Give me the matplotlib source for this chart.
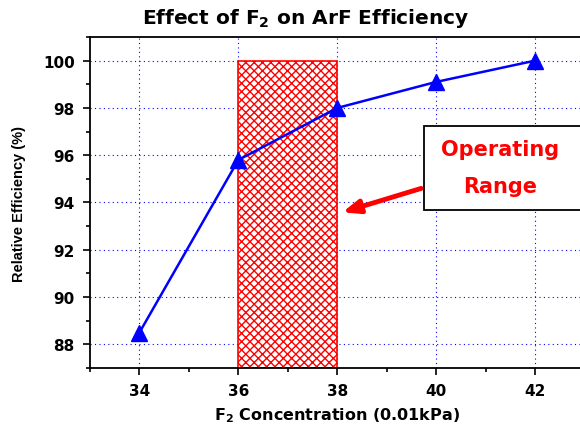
import matplotlib
matplotlib.use("Agg")
import matplotlib.pyplot as plt
from matplotlib.patches import Rectangle
from matplotlib.ticker import MultipleLocator

conc = [34, 36, 38, 40, 42]
eff = [88.5, 95.8, 98.0, 99.1, 100.0]
range_lo, range_hi = 36, 38
range_top = 100

plt.rcParams['font.family'] = ['DejaVu Sans']
plt.rcParams['mathtext.fontset'] = 'dejavusans'
fig = plt.figure(figsize=(5.8, 4.27), dpi=100)
ax = fig.add_axes([90/580, 1-369/427, (584.5-90)/580, (369-38)/427])
ax.set_xlim(33, 43)
ax.set_ylim(87, 101)

ax.add_patch(Rectangle((range_lo, 87), range_hi-range_lo, range_top-87,
                       facecolor='white', edgecolor='red', hatch='xxxx', linewidth=1.2, zorder=2))
ax.plot(conc, eff, color='blue', lw=1.8, marker='^', markersize=11, zorder=4)

ax.xaxis.set_major_locator(MultipleLocator(2))
ax.xaxis.set_minor_locator(MultipleLocator(1))
ax.yaxis.set_major_locator(MultipleLocator(2))
ax.yaxis.set_minor_locator(MultipleLocator(1))
ax.grid(True, which='major', color='blue', linestyle=(0, (1, 3)), linewidth=0.8)
ax.set_axisbelow(True)
ax.tick_params(which='both', direction='out', width=1.2)
ax.tick_params(which='major', length=5, labelsize=11, pad=6)
ax.tick_params(which='minor', length=3)
for lab in ax.get_xticklabels() + ax.get_yticklabels():
    lab.set_fontweight('bold')
for s in ['left', 'bottom', 'top']:
    ax.spines[s].set_linewidth(1.3)

ax.set_xlabel(r"F$_\mathbf{2}$ Concentration (0.01kPa)", fontsize=11.5, fontweight='bold', labelpad=5)
ax.set_ylabel("Relative Efficiency (%)", fontsize=10.5, fontweight='bold', labelpad=12,
              family='Liberation Sans')
fig.text(306/580, 1-18/427, r"Effect of F$_\mathbf{2}$ on ArF Efficiency", fontsize=14.5,
         fontweight='bold', ha='center', va='center')

ax.add_patch(Rectangle((39.75, 93.70), 4, 3.55, facecolor='white', edgecolor='black',
                       linewidth=1.3, zorder=5, clip_on=False))
ax.text(41.3, 96.25, "Operating", color='red', fontsize=15, fontweight='bold', ha='center', va='center', zorder=6)
ax.text(41.3, 94.7, "Range", color='red', fontsize=15, fontweight='bold', ha='center', va='center', zorder=6)
ax.annotate("", xy=(38.05, 93.55), xytext=(39.75, 94.63),
            arrowprops=dict(arrowstyle='-|>,head_length=1.0,head_width=0.4', color='red', lw=3.5),
            zorder=6)

fig.savefig("out.png", dpi=100)
